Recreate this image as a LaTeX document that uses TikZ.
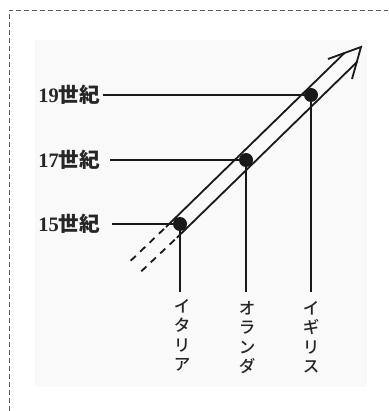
\documentclass[tikz,border=0pt]{standalone}
\usepackage{fontspec}
\setmainfont{Liberation Serif}
\newfontfamily\jp{Noto Sans CJK JP}
\newfontfamily\jpm{Noto Sans CJK JP Medium}
\begin{document}
\begin{tikzpicture}[x=1pt,y=-1pt,
  ink/.style={line width=1.8pt, draw=black!90},
  dot/.style={circle, fill=black!90, inner sep=0pt, minimum size=14pt},
  cent/.style={font=\fontsize{20.5}{22}\selectfont\bfseries, inner sep=0pt, anchor=east, text=black!85},
  kata/.style={font=\jpm\fontsize{16.5}{19.5}\selectfont, align=center, anchor=north, inner sep=0pt, text=black!85},
  dsh/.style={ink, dash pattern=on 7pt off 6pt}]
\useasboundingbox (0,0) rectangle (388,411);
\fill[black!2.5] (35,40) rectangle (367,387);
\draw[line width=0.6pt, black!65, dash pattern=on 5pt off 3pt] (9,411) -- (9,10) -- (388,10);

% dots
\node[dot] (d15) at (180,224) {};
\node[dot] (d17) at (246,160) {};
\node[dot] (d19) at (311,95) {};

% century labels
\node[cent] (l19) at (100,95) {19{\jp\bfseries 世紀}};
\node[cent] (l17) at (100,160) {17{\jp\bfseries 世紀}};
\node[cent] (l15) at (100,224) {15{\jp\bfseries 世紀}};

% country labels
\node[kata] (it) at (182,299) {イ\\タ\\リ\\ア};
\node[kata] (nl) at (247,301) {オ\\ラ\\ン\\ダ};
\node[kata] (uk) at (311,301) {イ\\ギ\\リ\\ス};

% shaft geometry
\coordinate (us) at (130.7,260.7);
\coordinate (um) at (166,227);
\coordinate (ue) at (344.5,53);
\coordinate (ls) at (141.3,271.3);
\coordinate (lm) at (176.8,237.8);
\coordinate (le) at (357,62);
\coordinate (tip) at (361,47);
\coordinate (bu) at (328,59);
\coordinate (bl) at (352,79);

\draw[dsh] (us) -- (um);
\draw[dsh] (ls) -- (lm);
\draw[ink] (um) -- (ue);
\draw[ink] (lm) -- (le);
\draw[ink, line join=miter] (bu) -- (tip) -- (bl);

% connectors
\draw[ink] ([xshift=3pt]l19.east) -- (d19.center);
\draw[ink] ([xshift=10pt]l17.east) -- (d17.center);
\draw[ink] ([xshift=12pt]l15.east) -- (d15.center);
\draw[ink] (d15.center) -- ([yshift=7pt]it.north -| d15);
\draw[ink] (d17.center) -- ([yshift=9pt]nl.north -| d17);
\draw[ink] (d19.center) -- ([yshift=9pt]uk.north -| d19);
\end{tikzpicture}
\end{document}
